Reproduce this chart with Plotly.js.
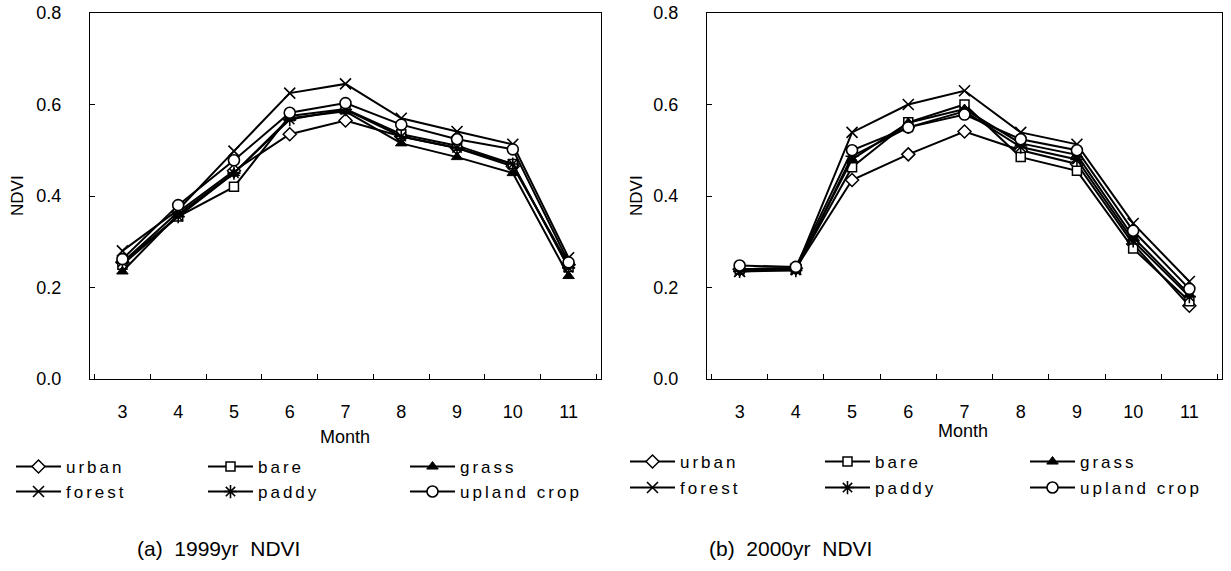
<!DOCTYPE html>
<html>
<head>
<meta charset="utf-8">
<script src="https://cdn.plot.ly/plotly-3.0.1.min.js"></script>
<style>
html,body{margin:0;padding:0;background:#fff;}
</style>
</head>
<body>
<div id="chart" style="width:1231px;height:571px;"></div>
<script>
const months = ['3','4','5','6','7','8','9','10','11'];
const seriesNames = ['urban','bare','grass','forest','paddy','upland crop'];

// 1999 NDVI
const urban1999  = [0.255, 0.365, 0.455, 0.535, 0.565, 0.530, 0.505, 0.465, 0.250];
const bare1999   = [0.250, 0.355, 0.420, 0.575, 0.590, 0.535, 0.510, 0.470, 0.245];
const grass1999  = [0.235, 0.360, 0.450, 0.570, 0.585, 0.515, 0.485, 0.450, 0.225];
const forest1999 = [0.280, 0.370, 0.498, 0.625, 0.645, 0.570, 0.541, 0.513, 0.265];
const paddy1999  = [0.255, 0.355, 0.450, 0.567, 0.589, 0.530, 0.505, 0.470, 0.243];
const upland1999 = [0.262, 0.380, 0.478, 0.582, 0.603, 0.556, 0.524, 0.502, 0.255];

// 2000 NDVI
const urban2000  = [0.240, 0.242, 0.435, 0.491, 0.541, 0.500, 0.470, 0.295, 0.160];
const bare2000   = [0.240, 0.242, 0.463, 0.561, 0.600, 0.485, 0.455, 0.285, 0.170];
const grass2000  = [0.240, 0.242, 0.480, 0.560, 0.590, 0.515, 0.490, 0.310, 0.185];
const forest2000 = [0.235, 0.240, 0.539, 0.600, 0.630, 0.539, 0.513, 0.340, 0.213];
const paddy2000  = [0.235, 0.237, 0.487, 0.550, 0.585, 0.507, 0.480, 0.302, 0.180];
const upland2000 = [0.248, 0.245, 0.500, 0.550, 0.578, 0.524, 0.500, 0.324, 0.197];

const data1999 = [urban1999, bare1999, grass1999, forest1999, paddy1999, upland1999];
const data2000 = [urban2000, bare2000, grass2000, forest2000, paddy2000, upland2000];

const markerStyles = [
  {symbol:'diamond', size:10, color:'white', line:{color:'black', width:1.5}},
  {symbol:'square', size:9, color:'white', line:{color:'black', width:1.5}},
  {symbol:'triangle-up', size:10, color:'black', line:{color:'black', width:1}},
  {symbol:'x-thin-open', size:11, color:'black', line:{color:'black', width:1.6}},
  {symbol:'asterisk-open', size:11, color:'black', line:{color:'black', width:1.6}},
  {symbol:'circle', size:11, color:'white', line:{color:'black', width:1.6}}
];

const traces = [];
[data1999, data2000].forEach((ds, p) => {
  ds.forEach((vals, i) => {
    const idx = p*6 + i + 1;
    traces.push({
      x: months, y: vals, name: seriesNames[i],
      type: 'scatter', mode: 'lines+markers',
      xaxis: p === 0 ? 'x' : 'x2', yaxis: p === 0 ? 'y' : 'y2',
      line: {color:'black', width:2},
      marker: markerStyles[i],
      legend: idx === 1 ? 'legend' : 'legend' + idx,
      showlegend: true, hoverinfo: 'skip'
    });
  });
});

const W = 1231, H = 571;
const px = v => v / W, py = v => 1 - v / H;
const font = 'Arial, "Liberation Sans", sans-serif';
const narrow = '"Liberation Sans Narrow", "Arial Narrow", Arial, sans-serif';

const axisCommon = {
  showline: true, mirror: true, linecolor: 'black', linewidth: 1,
  ticks: 'inside', ticklen: 5, tickcolor: 'black',
  showgrid: false, zeroline: false,
  tickfont: {family: font, size: 18, color: 'black'},
  fixedrange: true
};

function ann(text, x, y, size, fam, extra) {
  return Object.assign({text, x:px(x), y:py(y), xref:'paper', yref:'paper', xanchor:'center', yanchor:'middle',
    showarrow:false, font:{family:fam, size, color:'black'}}, extra || {});
}

const layout = {
  width: W, height: H,
  margin: {l:0, r:0, t:0, b:0},
  paper_bgcolor: 'white', plot_bgcolor: 'white',
  font: {family: font, color: 'black'},
  xaxis: Object.assign({}, axisCommon, {type:'category', tickson:'boundaries', ticklabelstandoff: 16, domain:[px(90), px(601)], anchor:'y'}),
  yaxis: Object.assign({}, axisCommon, {range:[0,0.8], dtick:0.2, tickformat:'.1f', ticklabelstandoff: 24, domain:[py(379), py(13)], anchor:'x'}),
  xaxis2: Object.assign({}, axisCommon, {type:'category', tickson:'boundaries', ticklabelstandoff: 16, domain:[px(707), px(1222)], anchor:'y2'}),
  yaxis2: Object.assign({}, axisCommon, {range:[0,0.8], dtick:0.2, tickformat:'.1f', ticklabelstandoff: 24, domain:[py(379), py(13)], anchor:'x2'}),
  annotations: [
    ann('Month', 345, 437, 18, font),
    ann('Month', 963, 431, 18, font),
    ann('NDVI', 18, 196, 17, font, {textangle:-90}),
    ann('NDVI', 637, 196, 17, font, {textangle:-90}),
    ann('(a)  1999yr  NDVI', 218, 548, 21, narrow),
    ann('(b)  2000yr  NDVI', 790, 548, 21, narrow)
  ]
};

// legend positions: [legend-left x, row y]
const legPos = [
  [11, 467], [203, 467], [405, 467], [11, 492], [203, 492], [405, 492],
  [625, 462], [820, 462], [1025, 462], [625, 488], [820, 488], [1025, 488]
];
legPos.forEach((pos, k) => {
  const key = k === 0 ? 'legend' : 'legend' + (k+1);
  layout[key] = {
    x: px(pos[0]), y: py(pos[1]), xanchor: 'left', yanchor: 'middle',
    xref: 'paper', yref: 'paper',
    bgcolor: 'rgba(0,0,0,0)', borderwidth: 0,
    itemwidth: 45,
    font: {family: font, size: 17, color: 'black'}
  };
});

function spaceLegend() {
  const root = document.getElementById('chart');
  root.querySelectorAll('svg text').forEach(t => {
    if (seriesNames.indexOf(t.textContent.trim()) >= 0) {
      t.style.letterSpacing = '3px';
    }
  });
  root.querySelectorAll('g.scrollbox, g[class^="legend"]').forEach(g => g.removeAttribute('clip-path'));
}

Plotly.newPlot('chart', traces, layout, {staticPlot: true, displayModeBar: false}).then(() => {
  spaceLegend();
  setTimeout(spaceLegend, 50);
});
</script>
</body>
</html>
